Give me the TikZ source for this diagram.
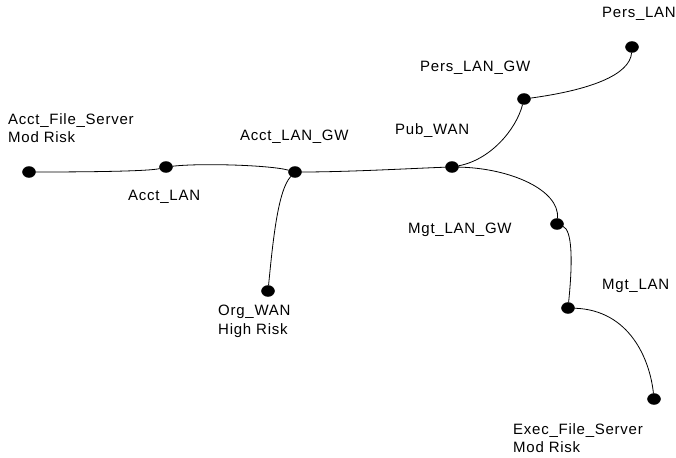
\documentclass[tikz,border=0pt]{standalone}
\usepackage{fontspec}
\setmainfont{Liberation Sans}[LetterSpace=5]
\usetikzlibrary{shapes.geometric}
\tikzstyle{host} = [draw, fill=black, ellipse, inner sep=0pt, minimum width=13pt, minimum height=11pt]
\tikzstyle{tag} = [font=\fontsize{15}{18.5}\selectfont, inner sep=0pt, align=left]
\tikzstyle{link} = [draw, line width=0.8pt]

\begin{document}
\begin{tikzpicture}[x=1pt,y=-1pt]
    \useasboundingbox (0,0) rectangle (676,457);
    % hosts
    \node[host] (afs) at (29,172) {};
    \node[host] (alan) at (166,167) {};
    \node[host] (agw) at (295,172) {};
    \node[host] (org) at (268,291) {};
    \node[host] (pub) at (452,167) {};
    \node[host] (plgw) at (524,99) {};
    \node[host] (plan) at (632,47) {};
    \node[host] (mgw) at (557,224) {};
    \node[host] (mlan) at (568,308) {};
    \node[host] (efs) at (654,399) {};
    % labels
    \node[tag, anchor=north west] (afstag) at (8,113) {Acct\_File\_Server\\Mod Risk};
    \node[tag, anchor=base west] (alantag) at (128,200) {Acct\_LAN};
    \node[tag, anchor=base west] (agwtag) at (240,141) {Acct\_LAN\_GW};
    \node[tag, anchor=north west] (orgtag) at (218,305) {Org\_WAN\\High Risk};
    \node[tag, anchor=base west] (pubtag) at (395,135) {Pub\_WAN};
    \node[tag, anchor=base west] (plgwtag) at (420,72) {Pers\_LAN\_GW};
    \node[tag, anchor=base west] (plantag) at (602,18) {Pers\_LAN};
    \node[tag, anchor=base west] (mgwtag) at (408,233) {Mgt\_LAN\_GW};
    \node[tag, anchor=base west] (mlantag) at (602,289) {Mgt\_LAN};
    \node[tag, anchor=north west] (efstag) at (513,423) {Exec\_File\_Server\\Mod Risk};
    % links
    \draw[link] (afs) .. controls (100,172) and (150,171) .. (alan);
    \draw[link] (alan) .. controls (200,163) and (270,165) .. (agw);
    \draw[link] (agw) .. controls (350,172) and (420,168) .. (pub);
    \draw[link] (agw) .. controls (278,190) and (273,240) .. (org);
    \draw[link] (pub) .. controls (490,160) and (516,130) .. (plgw);
    \draw[link] (plgw) .. controls (590,90) and (630,75) .. (plan);
    \draw[link] (pub) .. controls (510,168) and (560,190) .. (mgw);
    \draw[link] (mgw) .. controls (572,230) and (573,260) .. (mlan);
    \draw[link] (mlan) .. controls (630,310) and (650,360) .. (efs);
\end{tikzpicture}
\end{document}
